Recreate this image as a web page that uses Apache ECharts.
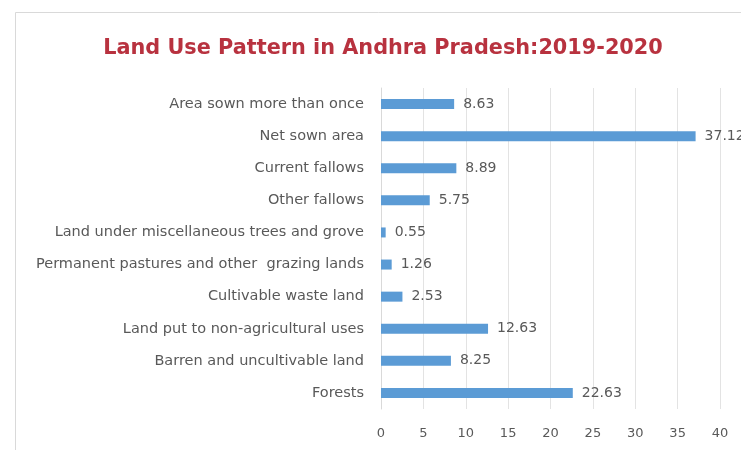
<!DOCTYPE html>
<html>
<head>
<meta charset="utf-8">
<script src="https://cdn.jsdelivr.net/npm/echarts@6/dist/echarts.min.js"></script>
<style>
  html, body { margin: 0; padding: 0; background: #fff; }
  #main { width: 741px; height: 450px; }
</style>
</head>
<body>
<div id="main"></div>
<script>
// categories listed top to bottom as in the picture
const categories = [
  "Area sown more than once",
  "Net sown area",
  "Current fallows",
  "Other fallows",
  "Land under miscellaneous trees and grove",
  "Permanent pastures and other  grazing lands",
  "Cultivable waste land",
  "Land put to non-agricultural uses",
  "Barren and uncultivable land",
  "Forests"
];
const values = [8.63, 37.12, 8.89, 5.75, 0.55, 1.26, 2.53, 12.63, 8.25, 22.63];
const xTicks = [0, 5, 10, 15, 20, 25, 30, 35, 40];

const chart = echarts.init(document.getElementById("main"), null, {renderer: "canvas"});

const option = {
  animation: false,
  backgroundColor: "#fff",
  title: {
    text: "Land Use Pattern in Andhra Pradesh:2019-2020",
    left: 378,
    textAlign: "center",
    top: 33,
    textStyle: {
      color: "#b8323f",
      fontFamily: "DejaVu Sans",
      fontWeight: "bold",
      fontSize: 20.8
    }
  },
  graphic: [{
    type: "rect",
    shape: {x: 15.5, y: 12.5, width: 740, height: 460},
    style: {fill: "none", stroke: "#d9d9d9", lineWidth: 1},
    silent: true
  }],
  grid: {left: 381, right: 21, top: 88, bottom: 41, containLabel: false},
  xAxis: {
    type: "value",
    min: xTicks[0],
    max: xTicks[xTicks.length - 1],
    interval: 5,
    axisLine: {show: false},
    axisTick: {show: false},
    axisLabel: {color: "#595959", fontSize: 13, fontFamily: "DejaVu Sans", margin: 18},
    splitLine: {lineStyle: {color: "#e3e3e3"}}
  },
  yAxis: {
    type: "category",
    data: categories,
    inverse: true,
    axisLine: {show: true, lineStyle: {color: "#d9d9d9"}},
    axisTick: {show: false},
    axisLabel: {color: "#595959", fontSize: 14.5, fontFamily: "DejaVu Sans", margin: 17}
  },
  series: [{
    type: "bar",
    data: values,
    barWidth: 10,
    itemStyle: {color: "#5b9bd5"},
    label: {
      show: true,
      position: "right",
      distance: 9,
      color: "#595959",
      fontSize: 14,
      fontFamily: "DejaVu Sans"
    }
  }]
};

chart.setOption(option);
</script>
</body>
</html>
